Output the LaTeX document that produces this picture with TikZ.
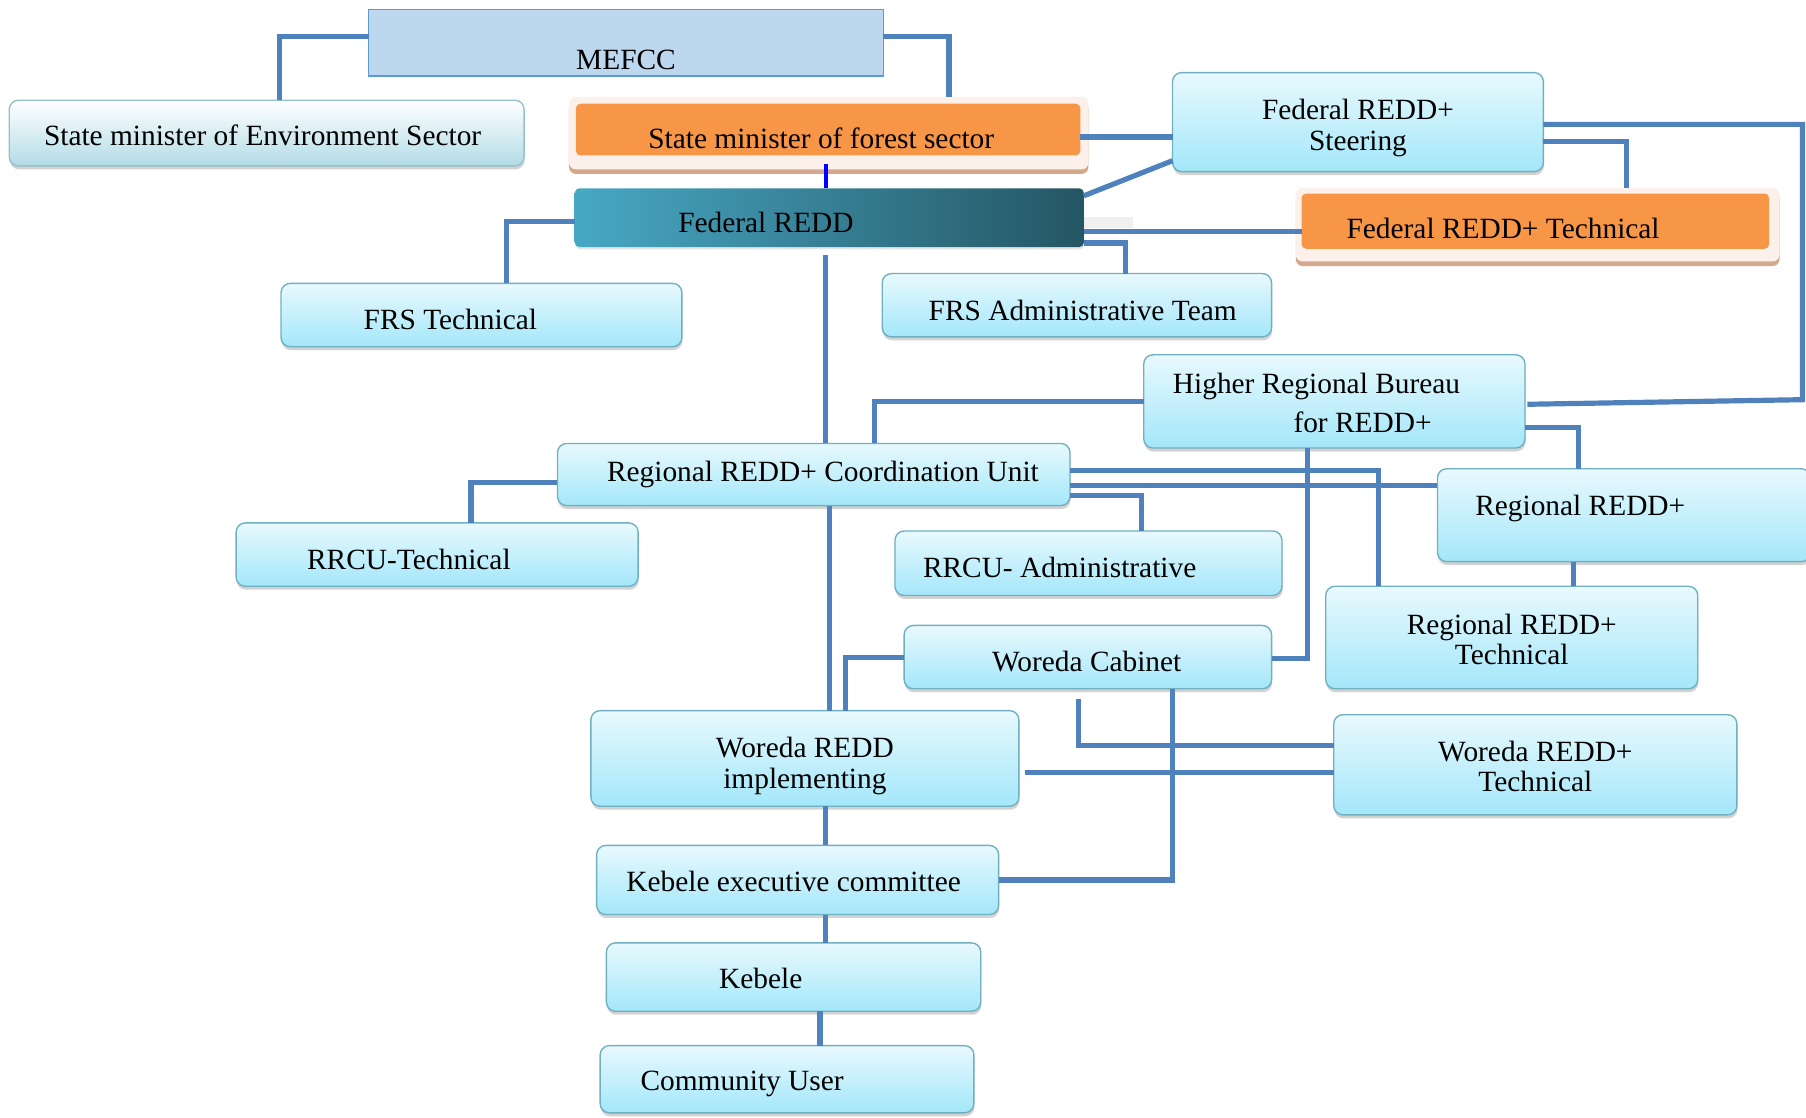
\documentclass[tikz,border=0pt]{standalone}
\usepackage{fontspec}
\setmainfont{Liberation Serif}
\usepackage{tikz}
\usetikzlibrary{shadows}
\definecolor{connblue}{RGB}{79,129,189}
\definecolor{boxtop}{RGB}{232,249,253}
\definecolor{boxbot}{RGB}{163,231,250}
\definecolor{boxline}{RGB}{112,176,192}
\definecolor{envbot}{RGB}{178,220,230}
\definecolor{envline}{RGB}{150,192,202}
\definecolor{orng}{RGB}{247,150,70}
\definecolor{orngframe}{RGB}{252,241,234}
\definecolor{orngshadow}{RGB}{212,168,140}
\definecolor{mefccfill}{RGB}{189,215,238}
\definecolor{mefccline}{RGB}{91,155,213}
\definecolor{tealL}{RGB}{72,168,196}
\definecolor{tealR}{RGB}{36,86,100}

\begin{document}
\begin{tikzpicture}[x=1pt,y=-1pt,
		font=\fontsize{25.5}{26.5}\selectfont,
		conn/.style={line width=4.5pt,connblue},
		cbox/.style={rounded corners=8pt,draw=boxline,line width=1.2pt,inner sep=0pt,outer sep=0pt,
			top color=boxtop,bottom color=boxbot,
			drop shadow={shadow xshift=0.5pt,shadow yshift=-3pt,fill=gray!70,opacity=0.5}},
		ebox/.style={cbox,draw=envline,top color=white,bottom color=envbot},
		mbox/.style={draw=mefccline,line width=1pt,fill=mefccfill,inner sep=0pt,outer sep=0pt},
		oframe/.style={rounded corners=6pt,fill=orngframe,inner sep=0pt,outer sep=0pt,
			drop shadow={shadow xshift=0pt,shadow yshift=-4pt,fill=orngshadow,opacity=1}},
		obox/.style={rounded corners=4pt,fill=orng,inner sep=0pt,outer sep=0pt},
		tbox/.style={rounded corners=4pt,left color=tealL,right color=tealR,inner sep=0pt,outer sep=0pt,
			drop shadow={shadow xshift=0.5pt,shadow yshift=-2pt,fill=gray!50,opacity=0.4}},
		one/.style={inner sep=0pt,text height=25.9pt,text depth=6pt},
		two/.style={inner sep=0pt,align=center,yshift=-1.5pt}]
		%	\draw[very thin,color=gray] (0,0) grid[step=100] (1568,970);
		\useasboundingbox (0,0) rectangle (1568,970);

		% federal level
		\node[mbox,minimum width=447,minimum height=58,label={[one,yshift=-13.5pt]center:MEFCC}] (mefcc) at (543.5,37) {};
		\node[ebox,minimum width=447,minimum height=57,label={[one,xshift=-3.5pt,yshift=-1pt]center:State minister of Environment Sector}] (env) at (231.5,115.5) {};
		\node[oframe,minimum width=451,minimum height=63] (forestbg) at (719.5,115.5) {};
		\node[obox,minimum width=438,minimum height=45,label={[one,xshift=-6pt,yshift=-6.5pt]center:State minister of forest sector}] (forest) at (719,112.5) {};
		\fill[gray!12] (941,188) rectangle (984,198);
		\node[tbox,minimum width=442,minimum height=51,label={[one,xshift=-55pt,yshift=-3pt]center:Federal REDD}] (fedredd) at (720,189) {};
		\node[cbox,minimum width=322,minimum height=86,label={[two,yshift=-3.4pt]center:Federal REDD+\\Steering}] (steering) at (1179,106) {};
		\node[oframe,minimum width=420,minimum height=64] (fedtechbg) at (1335,195) {};
		\node[obox,minimum width=406,minimum height=48,label={[one,xshift=-28pt,yshift=-5pt]center:Federal REDD+ Technical}] (fedtech) at (1333,192) {};
		\node[cbox,minimum width=348,minimum height=55,label={[one,xshift=-27pt,yshift=-2.5pt]center:FRS Technical}] (frstech) at (418,273.5) {};
		\node[cbox,minimum width=338,minimum height=55,label={[one,xshift=5pt,yshift=-3pt]center:FRS Administrative Team}] (frsadm) at (935,265) {};

		% regional level
		\node[cbox,minimum width=331,minimum height=81,label={[two,xshift=-15.5pt]center:Higher Regional Bureau\\[7pt]\hspace*{80pt}for REDD+}] (hrb) at (1158.5,348.5) {};
		\node[cbox,minimum width=445,minimum height=54,label={[one,xshift=8pt,yshift=4pt]center:Regional REDD+ Coordination Unit}] (rrcu) at (706.5,412) {};
		\node[cbox,minimum width=349,minimum height=55,label={[one,xshift=-24.5pt,yshift=-3pt]center:RRCU-Technical}] (rrcutech) at (379.5,481.5) {};
		\node[cbox,minimum width=336,minimum height=56,label={[one,xshift=-25pt,yshift=-2.7pt]center:RRCU- Administrative}] (rrcuadm) at (945,489) {};
		\node[cbox,minimum width=324,minimum height=80.6,label={[one,xshift=-38pt,yshift=10pt]center:Regional REDD+}] (regredd) at (1410,447.3) {};
		\node[cbox,minimum width=323,minimum height=89,label={[two]center:Regional REDD+\\Technical}] (regtech) at (1312.5,553.5) {};

		% woreda and kebele level
		\node[cbox,minimum width=319,minimum height=55,label={[one,xshift=-1pt,yshift=-2.5pt]center:Woreda Cabinet}] (cabinet) at (944.5,570.5) {};
		\node[cbox,minimum width=371.6,minimum height=83,label={[two,yshift=-5.2pt]center:Woreda REDD\\implementing}] (worredd) at (698.8,658.5) {};
		\node[cbox,minimum width=350,minimum height=87,label={[two]center:Woreda REDD+\\Technical}] (wortech) at (1333,664) {};
		\node[cbox,minimum width=349,minimum height=60,label={[one,xshift=-3.5pt]center:Kebele executive committee}] (kebexec) at (692.5,764) {};
		\node[cbox,minimum width=325,minimum height=59.4,label={[one,xshift=-28.5pt]center:Kebele}] (kebele) at (689,848.3) {};
		\node[cbox,minimum width=324.5,minimum height=58.3,label={[one,xshift=-39pt]center:Community User}] (commuser) at (683.3,937) {};

		% connectors
		\draw[conn] ([yshift=5pt]mefcc.west) -| ([xshift=11.5pt]env.north);
		\draw[conn] ([yshift=5pt]mefcc.east) -| ([xshift=104.5pt]forestbg.north);
		\draw[line width=4pt,blue] ([xshift=-2pt,yshift=-7pt]forest.south) -- ([xshift=-3pt]fedredd.north);
		\draw[conn] ([yshift=-6.5pt]forest.east) -- ([yshift=-13pt]steering.west);
		\draw[conn] ([yshift=19pt]fedredd.east) -- ([yshift=9.5pt]steering.south west);
		\draw[conn] ([yshift=-12pt]fedredd.east) -- ([yshift=-9pt]fedtech.west);
		\draw[conn] ([yshift=-22pt]fedredd.east) -| ([xshift=42pt]frsadm.north);
		\draw[conn] ([yshift=-3pt]fedredd.west) -| ([xshift=22pt]frstech.north);
		\draw[conn] ([xshift=-3pt,yshift=-7pt]fedredd.south) -- ([xshift=10.5pt]rrcu.north);
		\draw[conn] ([yshift=-17pt]steering.east) -| ([xshift=77pt]fedtechbg.north);
		\draw[conn] ([yshift=-2pt]steering.east) -| ([xshift=241pt,yshift=1.5pt]hrb.east) -- ([xshift=2pt,yshift=-2.5pt]hrb.east);
		\draw[conn] (hrb.west) -| ([xshift=53pt]rrcu.north);
		\draw[conn] ([yshift=-22.5pt]hrb.east) -| ([xshift=-39.5pt]regredd.north);
		\draw[conn] ([xshift=-23.5pt]hrb.south) |- ([yshift=-1.5pt]cabinet.east);
		\draw[conn] ([yshift=-7pt]rrcu.west) -| ([xshift=29.5pt]rrcutech.north);
		\draw[conn] ([yshift=3.5pt]rrcu.east) -| ([xshift=-115.5pt]regtech.north);
		\draw[conn] ([yshift=-9.6pt]rrcu.east) -- ([yshift=25.7pt]regredd.west);
		\draw[conn] ([yshift=-18.3pt]rrcu.east) -| ([xshift=46pt]rrcuadm.north);
		\draw[conn] ([xshift=14pt]rrcu.south) -- ([xshift=21.7pt]worredd.north);
		\draw[conn] ([xshift=-44pt]regredd.south) -- ([xshift=53.5pt]regtech.north);
		\draw[conn] (cabinet.west) -| ([xshift=35.2pt]worredd.north);
		\draw[conn] ([xshift=-8pt,yshift=-8.6pt]cabinet.south) |- ([yshift=16.5pt]wortech.west);
		\draw[conn] ([xshift=73.5pt]cabinet.south) |- (kebexec.east);
		\draw[conn] ([xshift=5.4pt,yshift=-12.2pt]worredd.east) -- ([yshift=-6.7pt]wortech.west);
		\draw[conn] ([xshift=18.2pt]worredd.south) -- ([xshift=24.5pt]kebexec.north);
		\draw[conn] ([xshift=24.5pt]kebexec.south) -- ([xshift=28pt]kebele.north);
		\draw[conn] ([xshift=23pt]kebele.south) -- ([xshift=28.7pt]commuser.north);
\end{tikzpicture}
\end{document}
